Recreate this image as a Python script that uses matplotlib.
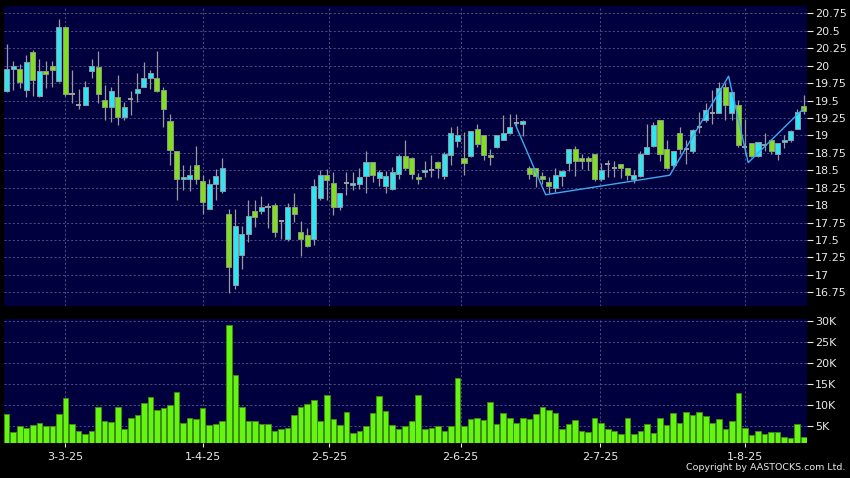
import numpy as np
import matplotlib
matplotlib.use("Agg")
import matplotlib.pyplot as plt
from matplotlib.ticker import FixedLocator, FuncFormatter

# daily OHLC (HKD), one entry per trading session
opens = [19.64, 19.95, 19.95, 19.65, 20.20, 19.57, 19.93, 19.99, 19.78, 20.56,
         19.59, 19.44, 19.44, 19.93, 19.98, 19.51, 19.41, 19.55, 19.27, 19.52,
         19.61, 19.70, 19.83, 19.83, 19.65, 19.21, 18.78, 18.37, 18.38, 18.57,
         18.35, 17.95, 18.31, 18.21, 17.88, 16.86, 17.28, 17.58, 17.92, 17.91,
         17.97, 18.00, 17.78, 17.51, 17.98, 17.62, 17.57, 17.51, 18.11, 18.44,
         18.32, 17.97, 18.32, 18.29, 18.31, 18.42, 18.62, 18.39, 18.27, 18.23,
         18.45, 18.71, 18.68, 18.41, 18.47, 18.51, 18.62, 18.42, 18.72, 18.92,
         18.67, 18.71, 19.09, 19.00, 18.72, 18.84, 18.94, 19.04, 19.18, 19.17,
         18.53, 18.53, 18.42, 18.33, 18.25, 18.42, 18.61, 18.81, 18.68, 18.68,
         18.73, 18.38, 18.59, 18.53, 18.59, 18.53, 18.38, 18.42, 18.73, 18.85,
         19.22, 18.80, 18.57, 19.04, 18.81, 18.77, 19.12, 19.22, 19.32, 19.32,
         19.69, 19.32, 19.43, 18.84, 18.89, 18.70, 18.86, 18.93, 18.73, 18.90,
         18.94, 19.09, 19.42]
highs = [20.31, 20.07, 20.02, 20.15, 20.22, 20.10, 20.07, 20.07, 20.67, 20.56,
         19.94, 19.67, 19.78, 20.10, 20.21, 19.73, 19.69, 19.86, 19.48, 19.64,
         19.89, 20.06, 19.94, 20.21, 19.69, 19.31, 18.78, 18.57, 18.57, 18.85,
         18.44, 18.38, 18.52, 18.67, 17.95, 17.95, 17.70, 18.08, 18.07, 18.13,
         18.03, 18.03, 17.78, 18.03, 18.17, 17.78, 17.67, 18.37, 18.51, 18.52,
         18.48, 18.17, 18.48, 18.48, 18.53, 18.77, 18.62, 18.51, 18.49, 18.55,
         18.74, 18.94, 18.69, 18.46, 18.63, 18.72, 18.64, 18.76, 19.12, 19.14,
         19.05, 19.07, 19.17, 19.00, 18.81, 19.00, 19.29, 19.31, 19.31, 19.22,
         18.56, 18.53, 18.48, 18.41, 18.53, 18.51, 18.81, 18.85, 18.73, 18.71,
         18.73, 18.60, 18.65, 18.63, 18.59, 18.53, 18.51, 18.77, 19.17, 19.20,
         19.22, 18.93, 18.78, 19.12, 18.94, 19.09, 19.34, 19.47, 19.65, 19.77,
         19.75, 19.62, 19.51, 19.24, 18.89, 18.90, 19.04, 18.95, 18.89, 19.00,
         19.08, 19.38, 19.58]
lows = [19.62, 19.65, 19.68, 19.55, 19.57, 19.55, 19.68, 19.69, 19.77, 19.56,
        19.47, 19.38, 19.44, 19.82, 19.47, 19.22, 19.20, 19.15, 19.22, 19.30,
        19.48, 19.69, 19.67, 19.62, 19.12, 18.57, 18.07, 18.22, 18.21, 18.30,
        17.87, 17.95, 18.07, 18.18, 16.74, 16.80, 17.09, 17.47, 17.69, 17.87,
        17.67, 17.55, 17.52, 17.49, 17.76, 17.27, 17.40, 17.43, 18.07, 18.07,
        17.86, 17.93, 18.15, 18.22, 18.23, 18.18, 18.33, 18.27, 18.17, 18.22,
        18.37, 18.50, 18.37, 18.31, 18.40, 18.41, 18.39, 18.38, 18.57, 18.84,
        18.44, 18.69, 18.84, 18.65, 18.57, 18.82, 18.93, 19.02, 19.13, 18.99,
        18.37, 18.26, 18.31, 18.17, 18.19, 18.27, 18.49, 18.42, 18.52, 18.50,
        18.35, 18.35, 18.41, 18.41, 18.39, 18.36, 18.32, 18.41, 18.73, 18.84,
        18.64, 18.52, 18.55, 18.74, 18.59, 18.75, 19.03, 19.20, 19.17, 19.32,
        19.22, 19.22, 18.84, 18.74, 18.69, 18.69, 18.77, 18.73, 18.65, 18.82,
        18.90, 19.09, 19.31]
closes = [19.95, 20.00, 19.77, 20.06, 19.80, 19.93, 19.88, 19.94, 20.56, 19.59,
          19.59, 19.44, 19.69, 20.00, 19.59, 19.41, 19.64, 19.27, 19.41, 19.52,
          19.67, 19.83, 19.90, 19.64, 19.38, 18.79, 18.37, 18.41, 18.43, 18.38,
          18.05, 18.31, 18.42, 18.54, 17.12, 17.70, 17.58, 17.85, 17.83, 17.97,
          17.97, 17.61, 17.78, 17.98, 17.87, 17.51, 17.42, 18.28, 18.44, 18.36,
          17.97, 18.17, 18.32, 18.32, 18.41, 18.62, 18.43, 18.47, 18.42, 18.47,
          18.71, 18.54, 18.45, 18.38, 18.51, 18.51, 18.54, 18.74, 19.03, 19.01,
          18.61, 19.07, 18.88, 18.72, 18.69, 19.00, 19.04, 19.12, 19.18, 19.21,
          18.45, 18.42, 18.37, 18.28, 18.44, 18.49, 18.81, 18.64, 18.64, 18.64,
          18.38, 18.51, 18.59, 18.53, 18.53, 18.44, 18.43, 18.73, 18.84, 19.15,
          18.73, 18.53, 18.78, 18.81, 18.81, 19.08, 19.12, 19.37, 19.32, 19.68,
          19.43, 19.62, 18.87, 18.84, 18.71, 18.90, 18.86, 18.78, 18.89, 18.94,
          19.06, 19.34, 19.35]
volumes = [7.9, 3.6, 5.2, 4.6, 5.3, 5.8, 5.0, 5.0, 7.9, 11.8,
           5.5, 3.9, 3.3, 4.0, 9.7, 6.2, 6.1, 9.6, 4.5, 6.9,
           7.8, 10.6, 12.0, 9.0, 9.3, 10.0, 13.2, 5.8, 7.1, 6.8,
           9.4, 5.4, 5.6, 6.2, 29.0, 17.2, 9.6, 6.4, 6.2, 5.5,
           5.6, 3.9, 4.5, 4.6, 7.7, 9.6, 10.3, 11.2, 6.3, 12.5,
           6.7, 5.3, 8.4, 3.5, 4.0, 5.1, 8.3, 12.3, 8.6, 5.4,
           4.3, 5.2, 6.4, 12.4, 4.3, 4.7, 5.0, 4.0, 5.1, 16.5,
           5.0, 6.8, 6.9, 6.6, 10.9, 5.6, 8.3, 7.1, 5.7, 6.9,
           6.8, 7.9, 9.6, 9.0, 8.2, 4.5, 5.5, 6.6, 3.9, 3.6,
           6.9, 5.7, 4.4, 4.0, 3.3, 6.9, 3.3, 4.0, 5.6, 3.5,
           6.9, 5.4, 8.2, 5.9, 8.4, 7.7, 8.5, 7.4, 5.8, 6.7,
           4.5, 6.2, 13.0, 4.7, 3.0, 3.9, 3.1, 3.6, 3.6, 2.4,
           2.2, 5.5, 2.6]  # thousands of shares

# overlay line (bar index, price)
line_x = [77.8, 82.5, 101.5, 110.5, 113.5, 121.9]
line_y = [19.17, 18.15, 18.43, 19.85, 18.61, 19.38]

date_pos = [9, 30, 49.4, 69.5, 90.8, 113]
date_labels = ['3-3-25', '1-4-25', '2-5-25', '2-6-25', '2-7-25', '1-8-25']
price_ticks = [16.75, 17, 17.25, 17.5, 17.75, 18, 18.25, 18.5, 18.75,
               19, 19.25, 19.5, 19.75, 20, 20.25, 20.5, 20.75]
vol_ticks = [5, 10, 15, 20, 25, 30]

BG = '#00003f'
UP = '#2ee6f2'
DOWN = '#80e020'
GRID = '#5a5a90'
TXT = '#e8e8e8'

o = np.array(opens); h = np.array(highs); l = np.array(lows); c = np.array(closes)
idx = np.arange(len(o))

fig = plt.figure(figsize=(8.5, 4.78), dpi=100, facecolor='black')
ax = fig.add_axes([0.0047, 0.3598, 0.9447, 0.628], facecolor=BG)
axv = fig.add_axes([0.0047, 0.0726, 0.9447, 0.2594], facecolor=BG, sharex=ax)

for a in (ax, axv):
    for s in a.spines.values():
        s.set_visible(False)
    a.yaxis.tick_right()
    a.tick_params(axis='y', colors=TXT, labelsize=8, length=4, width=0.8,
                  direction='out', pad=2)
    a.grid(True, color=GRID, linestyle=(0, (2.5, 2.5)), linewidth=0.6)
    a.set_axisbelow(True)

# wicks
ax.vlines(idx, l, h, color='#9a9a9a', linewidth=0.9, zorder=2)
# bodies
up = c > o
dn = c < o
eq = c == o
ax.bar(idx[up], (c - o)[up], bottom=o[up], width=0.78, color=UP,
       edgecolor='#8a9aa0', linewidth=0.7, zorder=3)
ax.bar(idx[dn], (o - c)[dn], bottom=c[dn], width=0.78, color=DOWN,
       edgecolor='#8a9a80', linewidth=0.7, zorder=3)
ax.hlines(o[eq], idx[eq] - 0.39, idx[eq] + 0.39, color='#a0a0a0',
          linewidth=1.4, zorder=3)

ax.plot(line_x, line_y, color='#3fa8f0', linewidth=1.0, zorder=4)

ax.set_ylim(16.554, 20.859)
ax.set_xlim(-0.41, 122.5)
ax.yaxis.set_major_locator(FixedLocator(price_ticks))
ax.yaxis.set_major_formatter(FuncFormatter(lambda v, p: ('%g' % v)))
ax.tick_params(axis='x', bottom=False, labelbottom=False)

vol = np.array(volumes) * 1000
axv.bar(idx, vol, width=0.86, color='#66f511', edgecolor='#3c8c14',
        linewidth=0.7, zorder=3)
axv.set_ylim(1000, 30400)
axv.yaxis.set_major_locator(FixedLocator([v * 1000 for v in vol_ticks]))
axv.yaxis.set_major_formatter(FuncFormatter(lambda v, p: '%dK' % (v / 1000)))

axv.xaxis.set_major_locator(FixedLocator(date_pos))
axv.set_xticklabels(date_labels)
axv.tick_params(axis='x', colors=TXT, labelsize=8, length=3, width=0.8,
                direction='out', pad=3)

fig.text(0.995, 0.012, 'Copyright by AASTOCKS.com Ltd.', color=TXT,
         fontsize=6.8, ha='right', va='bottom')

fig.savefig('out.png', dpi=100, facecolor='black')
